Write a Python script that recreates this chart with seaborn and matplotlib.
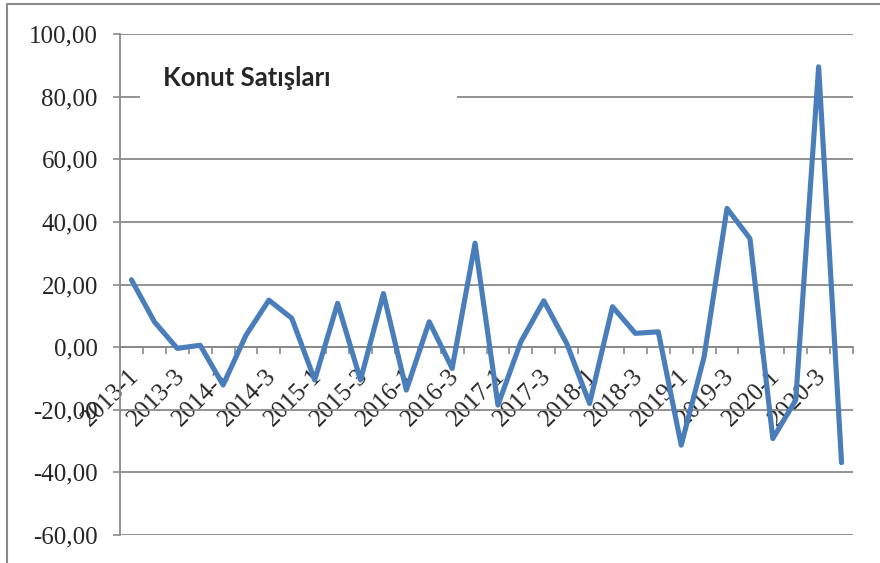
import numpy as np
import pandas as pd
import matplotlib
matplotlib.use("Agg")
import matplotlib.pyplot as plt
import seaborn as sns
from matplotlib.patches import Rectangle
from matplotlib.lines import Line2D
import matplotlib.transforms as mtransforms

# ================================
# Data
# ================================
quarters = [f"{y}-{q}" for y in range(2013, 2021) for q in range(1, 5)]
sales_change = [21.5, 8.1, -0.4, 0.6, -12.1, 3.8, 15.0, 9.2,
                -10.5, 14.0, -10.5, 17.1, -13.7, 8.1, -6.8, 33.2,
                -18.5, 1.7, 14.8, 1.2, -18.0, 12.9, 4.4, 4.9,
                -31.3, -3.1, 44.3, 34.7, -29.2, -16.9, 89.5, -36.9]
y_ticks = [-60, -40, -20, 0, 20, 40, 60, 80, 100]
title_text = "Konut Satışları"

df = pd.DataFrame({"idx": np.arange(len(quarters)), "value": sales_change})

# ================================
# Style
# ================================
sns.set_style("white")
plt.rcParams["font.family"] = ["Liberation Serif", "DejaVu Serif"]
grid_col = "#8a8a8a"

fig = plt.figure(figsize=(8.8, 5.63), dpi=100)
ax = fig.add_axes([120 / 880, 1 - 535 / 563, 733 / 880, 501 / 563])

sns.lineplot(data=df, x="idx", y="value", ax=ax, color="#4a7ebb",
             linewidth=3.7, zorder=3)

ax.set_xlim(-0.5, len(quarters) - 0.5)
ax.set_ylim(-60, 100)
ax.set_xlabel("")
ax.set_ylabel("")

# y axis
ax.set_yticks(y_ticks)
ax.set_yticklabels([f"{v:.2f}".replace(".", ",") for v in y_ticks], fontsize=18)
ax.yaxis.grid(True, color=grid_col, linewidth=1.3)
ax.set_axisbelow(True)
ax.tick_params(axis="y", direction="out", length=5, width=1.2, color=grid_col,
               pad=11, left=True)

# x axis crosses at 0
for s in ["top", "right"]:
    ax.spines[s].set_visible(False)
ax.spines["left"].set_color(grid_col)
ax.spines["left"].set_linewidth(1.3)
ax.spines["bottom"].set_position(("data", 0))
ax.spines["bottom"].set_color(grid_col)
ax.spines["bottom"].set_linewidth(1.3)

ax.set_xticks(np.arange(0, len(quarters), 2))
ax.set_xticklabels(quarters[::2], fontsize=18, rotation=45, ha="right",
                   va="center", rotation_mode="anchor")
ax.set_xticks(np.arange(-0.5, len(quarters), 1), minor=True)
ax.tick_params(axis="x", which="major", length=0, pad=18.5)
ax.tick_params(axis="x", which="minor", direction="out", length=5, width=1.2,
               color=grid_col, bottom=True)
shift = mtransforms.ScaledTranslation(4 / 100, 0, fig.dpi_scale_trans)
for lab in ax.get_xticklabels():
    lab.set_transform(lab.get_transform() + shift)

# title box (covers gridline)
ax.add_patch(Rectangle((20 / 733, 425 / 501), 317 / 733, 55 / 501,
                       transform=ax.transAxes, facecolor="white",
                       edgecolor="none", zorder=1))
ax.text(127 / 733, (535 - 78) / 501, title_text, transform=ax.transAxes,
        ha="center", va="center", fontsize=18.5, fontweight="bold",
        family=["Lato", "DejaVu Sans"], zorder=4)

# outer chart border (partially visible)
fig.add_artist(Line2D([7 / 880, 7 / 880, 1.0], [0.0, 1 - 4 / 563, 1 - 4 / 563],
                      transform=fig.transFigure, color=grid_col, linewidth=1.5))

fig.savefig("out.png", dpi=100)
